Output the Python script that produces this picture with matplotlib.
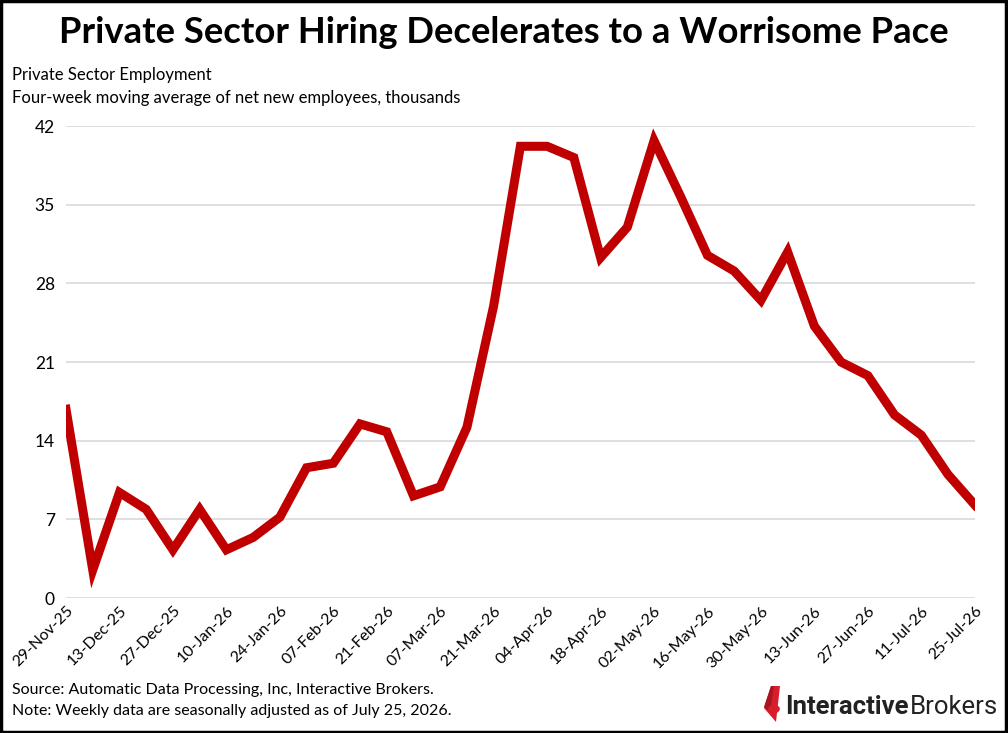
import pandas as pd
import matplotlib
matplotlib.use('Agg')
import matplotlib.pyplot as plt
from matplotlib.patches import Polygon, Circle, Rectangle

plt.rcParams['font.family'] = ['Lato', 'DejaVu Sans']

weeks = pd.date_range('2025-11-29', '2026-07-25', freq='7D')
hires = [16.8, 2.5, 9.4, 7.9, 4.3, 7.9, 4.3, 5.4, 7.2, 11.6,
         12.0, 15.5, 14.8, 9.1, 9.9, 15.2, 26.0, 40.2, 40.2, 39.2,
         30.3, 33.0, 40.7, 35.7, 30.5, 29.1, 26.5, 30.8, 24.2, 21.0,
         19.8, 16.3, 14.5, 11.0, 8.3]
tick_labels = [d.strftime('%d-%b-%y') for d in weeks[::2]]
y_ticks = [0, 7, 14, 21, 28, 35, 42]

fig = plt.figure(figsize=(10.08, 7.33), dpi=100)
ax = fig.add_axes([0.0655, 0.184, 0.9015, 0.644])

x = list(range(len(hires)))
ax.plot(x, hires, color='#C00000', linewidth=6.5, solid_joinstyle='miter')
ax.set_xlim(0, len(hires) - 1)
ax.set_ylim(0, 42)
ax.set_yticks(y_ticks)
ax.set_yticklabels([str(v) for v in y_ticks], fontsize=12.5)
ax.set_xticks(x[::2])
ax.set_xticklabels(tick_labels, rotation=45, ha='right', rotation_mode='anchor', fontsize=11.5)
ax.grid(axis='y', color='#d9d9d9', linewidth=1.2)
ax.set_axisbelow(True)
for s in ax.spines.values():
    s.set_visible(False)
ax.tick_params(length=0, pad=8)
ax.tick_params(axis='x', pad=4)

fig.text(0.5, 0.955, 'Private Sector Hiring Decelerates to a Worrisome Pace',
         ha='center', va='center', fontsize=26.2, fontweight='bold')
fig.text(0.012, 0.898, 'Private Sector Employment', fontsize=12, va='center')
fig.text(0.012, 0.866, 'Four-week moving average of net new employees, thousands',
         fontsize=12, va='center')
fig.text(0.012, 0.058, 'Source: Automatic Data Processing, Inc, Interactive Brokers.',
         fontsize=11.5, va='center')
fig.text(0.012, 0.030, 'Note: Weekly data are seasonally adjusted as of July 25, 2026.',
         fontsize=11.5, va='center')

# logo
W, H = 1008, 733
def fc(px, py):
    return (px / W, 1 - py / H)
fig.patches.append(Polygon([fc(771, 686), fc(780, 686), fc(776, 722), fc(764, 708)],
                           closed=True, facecolor='#d81e2c', transform=fig.transFigure))
fig.patches.append(Polygon([fc(771, 686), fc(774, 686), fc(770, 712), fc(764, 707)],
                           closed=True, facecolor='#a8151f', transform=fig.transFigure))
fig.patches.append(Circle(fc(774, 709), 0.0058, facecolor='#d81e2c', transform=fig.transFigure))
t1 = fig.text(0.779, 0.026, 'Interactive', fontsize=18.5, fontweight='bold', color='#222222',
              family=['Roboto', 'DejaVu Sans'], va='baseline')
fig.canvas.draw()
bb = t1.get_window_extent().transformed(fig.transFigure.inverted())
fig.text(bb.x1 + 0.001, 0.026, 'Brokers', fontsize=18.5, color='#222222',
         family=['Roboto', 'DejaVu Sans'], va='baseline')

fig.patches.append(Rectangle((0.001, 0.002), 0.997, 0.996, fill=False, edgecolor='black',
                             linewidth=2.5, transform=fig.transFigure))

fig.savefig('out.png', dpi=100)
